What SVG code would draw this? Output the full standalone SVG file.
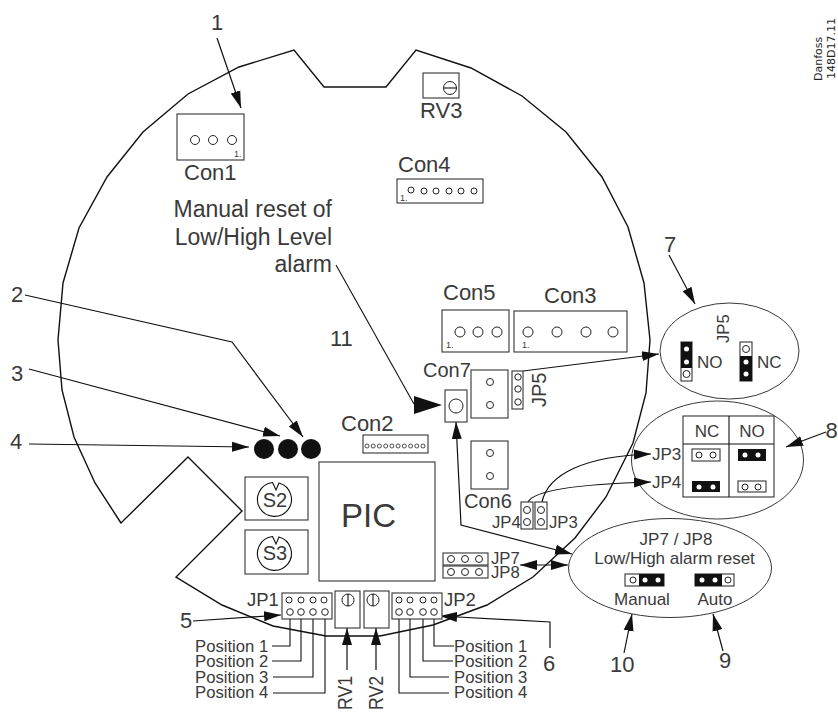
<svg xmlns="http://www.w3.org/2000/svg" width="838" height="713" viewBox="0 0 838 713">
<style>
text{font-family:"Liberation Sans",Arial,sans-serif;fill:#3a3a3a;font-size:22px}
.s{font-size:16.7px}
.m{font-size:17px}
.n{font-size:20px}
.j{font-size:18.500px}
.r{font-size:23px}
.t{font-size:9px}
.d{font-family:"DejaVu Sans",sans-serif;font-size:11px;fill:#222}
.b{fill:#fff;stroke:#333;stroke-width:1.1}
.c{fill:#fff;stroke:#222;stroke-width:1}
.k{fill:#111;stroke:none}
.w{fill:#fff;stroke:none}
.l{fill:none;stroke:#111;stroke-width:1.1}
.a{fill:none;stroke:#111;stroke-width:1.2;marker-end:url(#h)}
.o{fill:none;stroke:#111;stroke-width:1.4}
.e{fill:#fff;stroke:#222;stroke-width:.9}
</style>
<defs>
<marker id="h" markerUnits="userSpaceOnUse" markerWidth="18" markerHeight="12" refX="17" refY="6" orient="auto-start-reverse"><path d="M0 1L17 6L0 11z" fill="#111"/></marker>
</defs>
<rect width="838" height="713" fill="#fff"/>
<path id="board-outline" class="o" d="M121 523L95 483L74 437L62 390L58 340L63 283L79 228L107 177L143 132L188 94L239 67L294 50L324 87L386 87L416 50L471 68L522 96L566 132L602 177L628 227L644 283L650 340L646 393L633 443L606 497L575 538L533 577L487 605L433 625L380 636L326 636L273 626L222 605L176 577L242 511L188 457Z"/>

<g id="ellipse-jp5"><ellipse class="e" cx="729.5" cy="351" rx="69.5" ry="48"/></g>
<g id="ellipse-jp34"><ellipse class="e" cx="717.5" cy="460" rx="86" ry="59"/></g>
<g id="ellipse-jp78"><ellipse class="e" cx="670" cy="568" rx="101.5" ry="49.5"/></g>

<g id="connectors">
<path class="a" d="M217 38L241 108"/>
<path class="l" d="M336 265L414 404"/>
<path class="k" d="M414 396L442 405L414 414z"/>
<path class="a" d="M25 295L232 342L303 437"/>
<path class="a" d="M29 369L280 436"/>
<path class="a" d="M29 444L249 447"/>
<path class="a" d="M193 621L281 615"/>
<path class="a" d="M550 648L550 622L440 616"/>
<path class="a" d="M347 670L347 628"/>
<path class="a" d="M376 670L376 628"/>
<path class="l" d="M290 615V646H272M301 615V661H272M313 615V677H273M325 615V693H273"/>
<path class="l" d="M434 615V646H454M423 615V661H453M410 615V677H449M399 615V693H449"/>
<path class="a" d="M523 371L659 354"/>
<path class="a" d="M669 255L695 304"/>
<path class="a" d="M826 432L786 447"/>
<path class="a" d="M542 502C548 474 585 456 651 454"/>
<path class="a" d="M528 502C534 490 580 484 651 482"/>
<path class="a" style="marker-start:url(#h)" d="M456 422L461 525L572 554"/>
<path class="a" style="marker-start:url(#h)" d="M520 565H568"/>
<path class="a" d="M624 653L632 614"/>
<path class="a" d="M723 651L713 614"/>
</g>

<g id="con1"><rect class="b" x="177" y="114" width="67" height="46"/><circle class="c" cx="195" cy="140" r="4.5"/><circle class="c" cx="213" cy="140" r="4.5"/><circle class="c" cx="232" cy="140" r="4.5"/><text class="t" x="234" y="157">1.</text><text x="184" y="180">Con1</text></g>
<g id="rv3"><rect class="b" x="423" y="73" width="36" height="25"/><circle class="c" cx="450" cy="88" r="6.5"/><path class="l" d="M443.500 88H456.500"/><text x="420" y="118">RV3</text></g>
<g id="con4"><rect class="b" x="397" y="179" width="86" height="24"/><circle class="c" cx="411" cy="190" r="3"/><circle class="c" cx="424" cy="191" r="3"/><circle class="c" cx="436" cy="191" r="3"/><circle class="c" cx="449" cy="191" r="3"/><circle class="c" cx="461" cy="191" r="3"/><circle class="c" cx="474" cy="191" r="3"/><text class="t" x="400" y="201">1.</text><text x="398" y="172">Con4</text></g>
<g id="manual-reset-label"><text class="r" x="332" y="217" text-anchor="end">Manual reset of</text><text class="r" x="332" y="245" text-anchor="end">Low/High Level</text><text class="r" x="332" y="272" text-anchor="end">alarm</text></g>
<g id="con5"><rect class="b" x="442" y="310" width="67" height="42"/><circle class="c" cx="460" cy="332" r="5"/><circle class="c" cx="478" cy="332" r="5"/><circle class="c" cx="497" cy="332" r="5"/><text class="t" x="446" y="348">1.</text><text x="443" y="300">Con5</text></g>
<g id="con3"><rect class="b" x="514" y="311" width="113" height="41"/><circle class="c" cx="528" cy="332" r="5"/><circle class="c" cx="557" cy="332" r="5"/><circle class="c" cx="586" cy="332" r="5"/><circle class="c" cx="613" cy="332" r="5"/><text class="t" x="522" y="348">1.</text><text x="544" y="303">Con3</text></g>
<g id="con7"><rect class="b" x="445" y="390" width="22" height="32"/><circle class="c" cx="456" cy="406" r="7"/><text class="n" x="423" y="377">Con7</text></g>
<g id="con7-box"><rect class="b" x="471" y="370" width="37" height="48"/><circle class="c" cx="490" cy="382" r="3.500"/><circle class="c" cx="490" cy="405" r="3.500"/></g>
<g id="jp5"><rect class="b" x="512" y="371" width="11" height="38"/><circle class="c" cx="518" cy="377" r="3.200"/><circle class="c" cx="518" cy="389" r="3.200"/><circle class="c" cx="518" cy="402" r="3.200"/><text class="n" transform="translate(546 407) rotate(-90)">JP5</text></g>
<g id="con6"><rect class="b" x="471" y="441" width="37" height="48"/><circle class="c" cx="490" cy="453" r="3.500"/><circle class="c" cx="490" cy="476" r="3.500"/><text class="n" x="464" y="508">Con6</text></g>
<g id="jp4"><rect class="b" x="521" y="502" width="12" height="27"/><circle class="c" cx="527" cy="510" r="3.500"/><circle class="c" cx="527" cy="522" r="3.500"/><text class="s" x="492" y="528">JP4</text></g>
<g id="jp3"><rect class="b" x="535" y="502" width="12" height="27"/><circle class="c" cx="541" cy="510" r="3.500"/><circle class="c" cx="541" cy="522" r="3.500"/><text class="s" x="549" y="528">JP3</text></g>
<g id="jp7"><rect class="b" x="443" y="553" width="45" height="12"/><circle class="c" cx="451" cy="559" r="3.500"/><circle class="c" cx="465" cy="559" r="3.500"/><circle class="c" cx="479" cy="559" r="3.500"/><text class="s" x="491" y="564">JP7</text></g>
<g id="jp8"><rect class="b" x="443" y="566" width="45" height="12"/><circle class="c" cx="451" cy="572" r="3.500"/><circle class="c" cx="465" cy="572" r="3.500"/><circle class="c" cx="479" cy="572" r="3.500"/><text class="s" x="491" y="578">JP8</text></g>
<g id="con2"><rect class="b" x="363" y="435" width="65" height="18"/><g class="c" style="stroke-width:.8"><circle cx="367" cy="446" r="2"/><circle cx="373.200" cy="446" r="2"/><circle cx="379.400" cy="446" r="2"/><circle cx="385.700" cy="446" r="2"/><circle cx="391.900" cy="446" r="2"/><circle cx="398.100" cy="446" r="2"/><circle cx="404.300" cy="446" r="2"/><circle cx="410.600" cy="446" r="2"/><circle cx="416.800" cy="446" r="2"/><circle cx="423" cy="446" r="2"/></g><text x="341" y="431">Con2</text></g>
<g id="leds"><circle class="k" cx="264" cy="449" r="10"/><circle class="k" cx="288" cy="449" r="10"/><circle class="k" cx="311" cy="449" r="10"/></g>
<g id="pic"><rect class="b" x="319" y="462" width="116" height="119"/><text x="341" y="527" style="font-size:33px">PIC</text></g>
<g id="s2"><rect class="b" x="245" y="477" width="63" height="43"/><path class="l" d="M272.500 482.500L276 490L279 483A17 17 0 1 1 272.500 482.500Z"/><text class="n" x="275" y="507" text-anchor="middle">S2</text></g>
<g id="s3"><rect class="b" x="245" y="530" width="63" height="44"/><path class="l" d="M272.500 536.500L276 544L279 537A17 17 0 1 1 272.500 536.500Z"/><text class="n" x="275" y="560" text-anchor="middle">S3</text></g>
<g id="jp1"><rect class="b" x="282" y="593" width="50" height="26"/><circle class="c" cx="289" cy="600" r="3"/><circle class="c" cx="301" cy="600" r="3"/><circle class="c" cx="313" cy="600" r="3"/><circle class="c" cx="324" cy="600" r="3"/><circle class="c" cx="290" cy="612" r="3.300"/><circle class="c" cx="301" cy="612" r="3.300"/><circle class="c" cx="313" cy="612" r="3.300"/><circle class="c" cx="325" cy="612" r="3.300"/><text class="j" x="247" y="606">JP1</text></g>
<g id="rv1"><rect class="b" x="335" y="591" width="25" height="37"/><circle class="c" cx="348" cy="600" r="6"/><path class="l" d="M348 594V606"/><text class="n" transform="translate(352 710) rotate(-90)" textLength="34" lengthAdjust="spacingAndGlyphs">RV1</text></g>
<g id="rv2"><rect class="b" x="364" y="591" width="25" height="37"/><circle class="c" cx="373" cy="600" r="6"/><path class="l" d="M373 594V606"/><text class="n" transform="translate(383 710) rotate(-90)" textLength="34" lengthAdjust="spacingAndGlyphs">RV2</text></g>
<g id="jp2"><rect class="b" x="392" y="593" width="50" height="26"/><circle class="c" cx="399" cy="600" r="3"/><circle class="c" cx="410" cy="600" r="3"/><circle class="c" cx="423" cy="600" r="3"/><circle class="c" cx="434" cy="600" r="3"/><circle class="c" cx="399" cy="612" r="3.300"/><circle class="c" cx="410" cy="612" r="3.300"/><circle class="c" cx="423" cy="612" r="3.300"/><circle class="c" cx="434" cy="612" r="3.300"/><text class="j" x="444" y="606">JP2</text></g>
<g id="positions-left"><text class="s" x="195" y="652">Position 1</text><text class="s" x="195" y="667">Position 2</text><text class="s" x="195" y="683">Position 3</text><text class="s" x="195" y="698">Position 4</text></g>
<g id="positions-right"><text class="s" x="454" y="652">Position 1</text><text class="s" x="454" y="667">Position 2</text><text class="s" x="454" y="683">Position 3</text><text class="s" x="454" y="698">Position 4</text></g>

<g id="detail-jp5"><text class="s" transform="translate(729 343) rotate(-90)">JP5</text>
<rect class="b" x="681" y="342" width="11" height="39"/><rect class="k" x="681" y="342" width="11" height="26"/><circle class="w" cx="686.500" cy="349" r="2.500"/><circle class="w" cx="686.500" cy="362" r="2.500"/><circle class="c" cx="686.500" cy="374" r="3.500"/><text class="m" x="697" y="368">NO</text>
<rect class="b" x="740" y="342" width="12" height="39"/><rect class="k" x="740" y="356" width="12" height="25"/><circle class="c" cx="746" cy="349" r="3.500"/><circle class="w" cx="746" cy="362" r="2.500"/><circle class="w" cx="746" cy="374" r="2.500"/><text class="m" x="757" y="368">NC</text></g>
<g id="detail-jp34"><rect class="b" x="683" y="416" width="91" height="81"/><path class="l" d="M729 416V497M683 444H774"/>
<text class="m" x="707" y="437" text-anchor="middle">NC</text><text class="m" x="752" y="437" text-anchor="middle">NO</text>
<text class="m" x="652" y="460">JP3</text><text class="m" x="652" y="488">JP4</text>
<rect class="b" x="692" y="449" width="28" height="12"/><circle class="c" cx="699" cy="455" r="3"/><circle class="c" cx="713" cy="455" r="3"/>
<rect class="k" x="738" y="449" width="28" height="12"/><circle class="w" cx="745" cy="455" r="2.500"/><circle class="w" cx="758" cy="455" r="2.500"/>
<rect class="k" x="692" y="481" width="28" height="11"/><circle class="w" cx="699" cy="487" r="2.500"/><circle class="w" cx="713" cy="487" r="2.500"/>
<rect class="b" x="738" y="481" width="28" height="11"/><circle class="c" cx="745" cy="487" r="3"/><circle class="c" cx="758" cy="487" r="3"/></g>
<g id="detail-jp78"><text class="m" x="676" y="545" text-anchor="middle">JP7 / JP8</text><text class="m" x="674.500" y="564" text-anchor="middle">Low/High alarm reset</text>
<rect class="b" x="625" y="574" width="39" height="12"/><rect class="k" x="639" y="574" width="25" height="12"/><circle class="c" cx="633" cy="580" r="3"/><circle class="w" cx="645" cy="580" r="2.500"/><circle class="w" cx="658" cy="580" r="2.500"/>
<rect class="b" x="695" y="574" width="39" height="12"/><rect class="k" x="695" y="574" width="27" height="12"/><circle class="w" cx="702" cy="580" r="2.500"/><circle class="w" cx="715" cy="580" r="2.500"/><circle class="c" cx="728" cy="580" r="3"/>
<text class="m" x="642" y="605" text-anchor="middle">Manual</text><text class="m" x="715" y="605" text-anchor="middle">Auto</text></g>

<g id="numbers"><text x="211" y="30">1</text><text x="11" y="302">2</text><text x="11" y="381">3</text><text x="10" y="449">4</text><text x="180" y="628">5</text><text x="543" y="671">6</text><text x="664" y="252">7</text><text x="825.500" y="438">8</text><text x="719" y="668">9</text><text x="610" y="672">10</text><text x="330" y="346">11</text></g>
<g id="ref-code"><text class="d" transform="translate(822 81) rotate(-90)">Danfoss</text><text class="d" transform="translate(835 79) rotate(-90)">148D17.11</text></g>
</svg>
